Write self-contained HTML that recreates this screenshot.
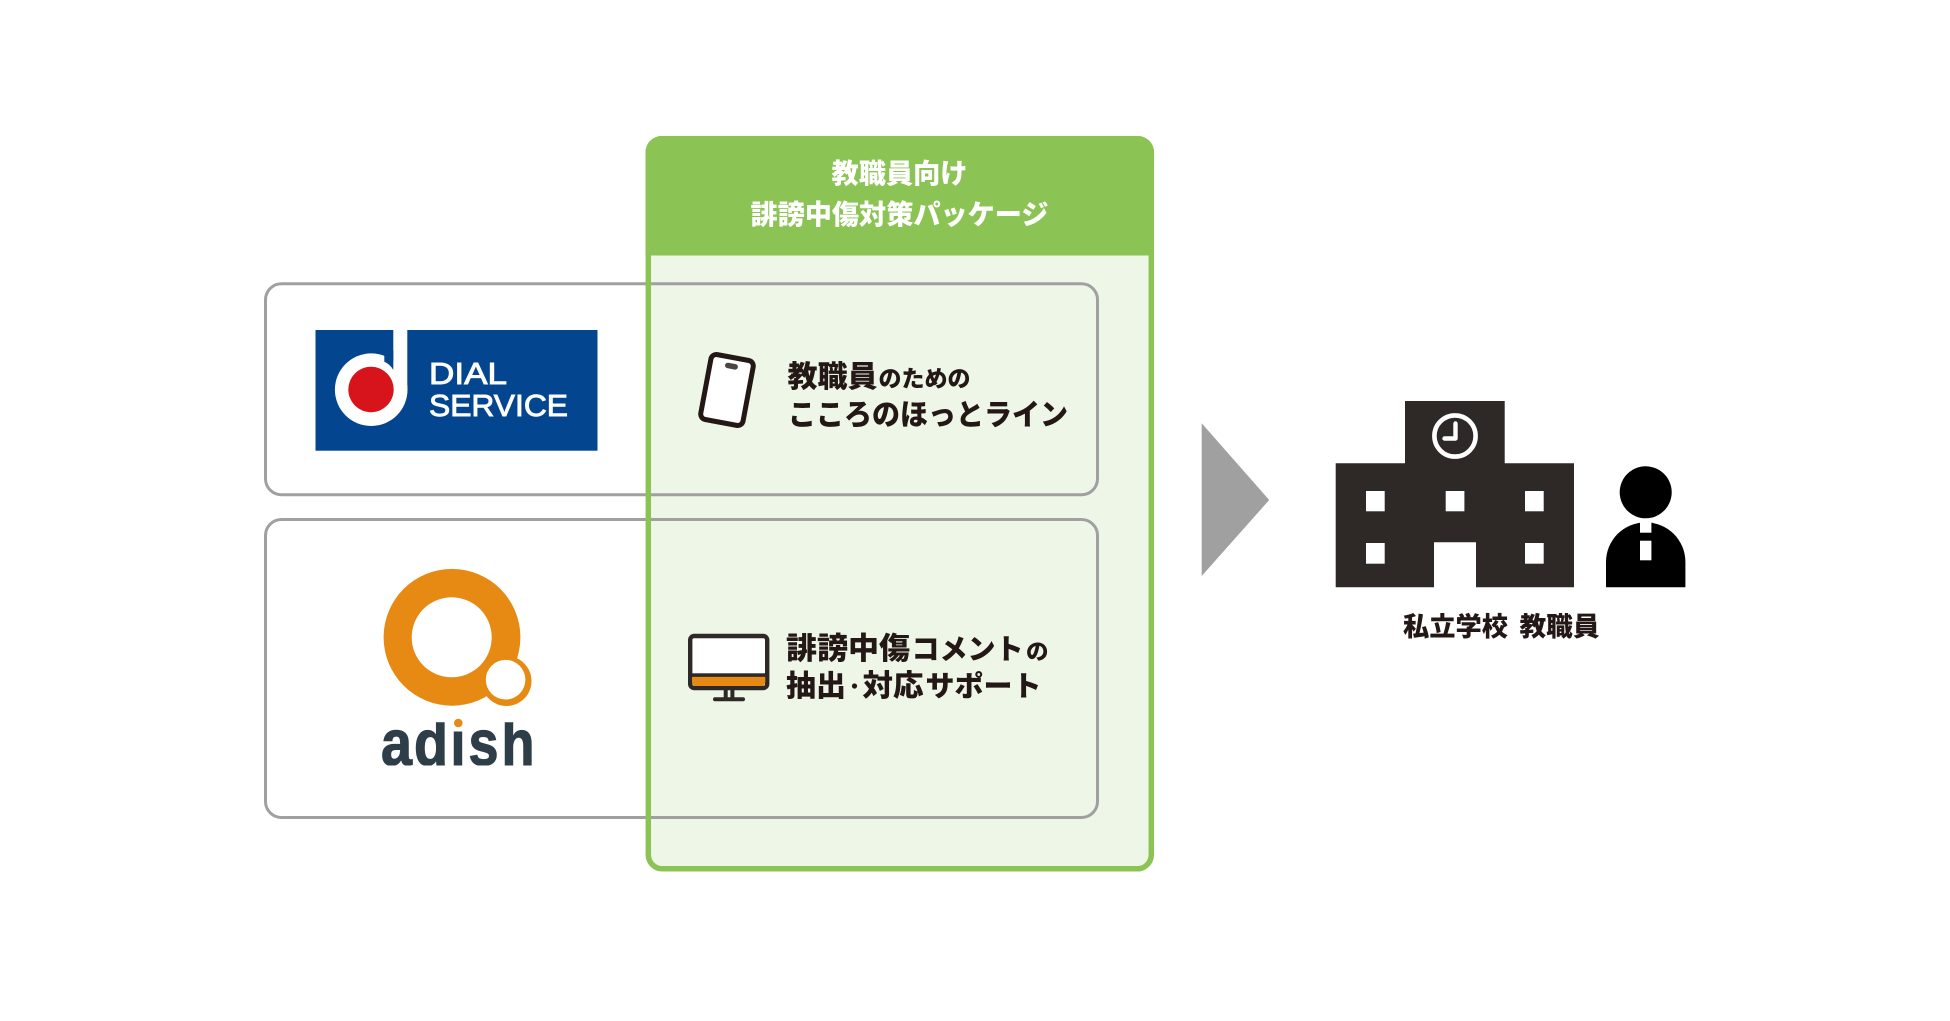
<!DOCTYPE html>
<html lang="ja">
<head>
<meta charset="utf-8">
<title>教職員向け 誹謗中傷対策パッケージ</title>
<style>
html,body{margin:0;padding:0;background:#fff;width:1950px;height:1021px;overflow:hidden}
svg{display:block}
.j{font-family:"Liberation Sans","Noto Sans CJK JP",sans-serif;font-weight:900;fill:#231815}
.w{fill:#fff}
</style>
</head>
<body>
<svg width="1950" height="1021" viewBox="0 0 1950 1021" xmlns="http://www.w3.org/2000/svg">
<defs>
<clipPath id="asc"><rect x="370" y="722.3" width="175" height="43.2"/></clipPath>
</defs>
<rect width="1950" height="1021" fill="#fff"/>

<!-- panel fill -->
<rect x="648" y="140" width="503" height="729" rx="14" fill="#edf6e7"/>

<!-- gray boxes -->
<rect x="265.5" y="283.8" width="832" height="211" rx="16" fill="none" stroke="#a0a0a0" stroke-width="3"/>
<rect x="265.5" y="519.5" width="832" height="298" rx="16" fill="none" stroke="#a0a0a0" stroke-width="3"/>

<!-- panel border and header -->
<rect x="648.3" y="138.8" width="503" height="730" rx="14" fill="none" stroke="#8bc454" stroke-width="5.5"/>
<path d="M645.5 255.5V152a16 16 0 0 1 16-16H1138a16 16 0 0 1 16 16V255.5Z" fill="#8bc454"/>
<text class="j w" x="899.5" y="183" font-size="27.5" text-anchor="middle" textLength="136" lengthAdjust="spacingAndGlyphs">教職員向け</text>
<text class="j w" x="899.5" y="224" font-size="27.5" text-anchor="middle" textLength="298" lengthAdjust="spacingAndGlyphs">誹謗中傷対策パッケージ</text>

<!-- Dial Service logo -->
<rect x="315.5" y="330" width="282" height="120.7" fill="#03468f"/>
<circle cx="371.2" cy="389.7" r="36.3" fill="#fff"/>
<rect x="393.3" y="330" width="14" height="60" fill="#fff"/>
<path d="M384.3 350V361.7Q390 364 393.3 370V350Z" fill="#03468f"/>
<circle cx="371" cy="389.5" r="22.7" fill="#d7141c"/>
<g font-family="'Liberation Sans',sans-serif" font-size="30.5" fill="#fff" stroke="#fff" stroke-width=".9">
<text x="429" y="384" textLength="78" lengthAdjust="spacingAndGlyphs">DIAL</text>
<text x="429" y="416" textLength="139" lengthAdjust="spacingAndGlyphs">SERVICE</text>
</g>

<!-- adish logo -->
<circle cx="452" cy="637.3" r="68.4" fill="#e68a14"/>
<circle cx="451.7" cy="637.3" r="40" fill="#fff"/>
<circle cx="506.5" cy="681" r="25" fill="#e68a14"/>
<circle cx="505.6" cy="679.7" r="19.8" fill="#fff"/>
<g font-family="'Liberation Sans',sans-serif" font-weight="700" font-size="64" fill="#2e3e48" stroke="#2e3e48" stroke-width="1.2" clip-path="url(#asc)">
<text x="381" y="765" textLength="31" lengthAdjust="spacingAndGlyphs">a</text>
<text x="414" y="765" textLength="34" lengthAdjust="spacingAndGlyphs">d</text>
<text x="450.5" y="765" textLength="15" lengthAdjust="spacingAndGlyphs">i</text>
<text x="468.5" y="765" textLength="30" lengthAdjust="spacingAndGlyphs">s</text>
<text x="501.5" y="765" textLength="33" lengthAdjust="spacingAndGlyphs">h</text>
</g>
<rect x="450" y="716" width="16" height="15.5" fill="#fff"/>
<circle cx="458.3" cy="723" r="4.3" fill="#e68a14"/>

<!-- phone icon -->
<g transform="translate(727 390) rotate(10.6)">
<rect x="-21.5" y="-33" width="43" height="66" rx="5.5" fill="#fff" stroke="#231815" stroke-width="5"/>
<rect x="-6.5" y="-27" width="13" height="5.5" rx="2.7" fill="#4a4442"/>
</g>
<text class="j" x="787.5" y="387" font-size="30" textLength="90" lengthAdjust="spacingAndGlyphs">教職員</text>
<text class="j" x="878.5" y="386.7" font-size="23" textLength="92" lengthAdjust="spacingAndGlyphs">のための</text>
<text class="j" x="788" y="425" font-size="29.5" textLength="280" lengthAdjust="spacingAndGlyphs">こころのほっとライン</text>

<!-- monitor icon -->
<rect x="690.2" y="636" width="77" height="52" rx="4" fill="#fff" stroke="#2e2826" stroke-width="4.4"/>
<path d="M692 676.7H765.3V682a4 4 0 0 1-4 4H696a4 4 0 0 1-4-4Z" fill="#e68a14"/>
<rect x="690" y="673.3" width="77" height="3.6" fill="#2e2826"/>
<rect x="723.7" y="690" width="4" height="8" fill="#2e2826"/>
<rect x="730.4" y="690" width="4" height="8" fill="#2e2826"/>
<rect x="713" y="697.3" width="32" height="4" rx="2" fill="#2e2826"/>
<text class="j" x="786" y="659" font-size="30.5" textLength="124" lengthAdjust="spacingAndGlyphs">誹謗中傷</text>
<text class="j" x="911.5" y="659" font-size="28.5" textLength="112" lengthAdjust="spacingAndGlyphs">コメント</text>
<text class="j" x="1026" y="659.4" font-size="22" textLength="22.5" lengthAdjust="spacingAndGlyphs">の</text>
<text class="j" x="786" y="696" font-size="29.5" textLength="60" lengthAdjust="spacingAndGlyphs">抽出</text>
<circle cx="854.5" cy="686" r="2.6" fill="#231815"/>
<text class="j" x="862.5" y="696" font-size="30" textLength="61" lengthAdjust="spacingAndGlyphs">対応</text>
<text class="j" x="925.5" y="696" font-size="28.5" textLength="116" lengthAdjust="spacingAndGlyphs">サポート</text>

<!-- arrow -->
<polygon points="1201.7,423.3 1269.2,500 1201.7,576" fill="#a0a0a0"/>

<!-- school -->
<path d="M1405 401H1504.7V463.3H1574V587.3H1476V542.3H1434V587.3H1335.7V463.3H1405Z" fill="#2e2826"/>
<g fill="#fff">
<rect x="1366" y="491" width="18.7" height="20.3"/>
<rect x="1445.7" y="491" width="18.7" height="20.3"/>
<rect x="1525" y="491" width="18.7" height="20.3"/>
<rect x="1366" y="543" width="18.7" height="20.7"/>
<rect x="1525" y="543" width="18.7" height="20.7"/>
</g>
<circle cx="1455" cy="436" r="20.6" fill="none" stroke="#fff" stroke-width="4.6"/>
<path d="M1455.5 423.5V438.5H1444.5" fill="none" stroke="#fff" stroke-width="4.4" stroke-linecap="round" stroke-linejoin="round"/>

<!-- person -->
<circle cx="1645.7" cy="492.3" r="26" fill="#000"/>
<path d="M1606 587.3V562A39.7 39.7 0 0 1 1685.4 562V587.3Z" fill="#000"/>
<rect x="1640" y="520" width="11.4" height="12.7" fill="#fff"/>
<rect x="1640" y="540.7" width="11.4" height="19.6" fill="#fff"/>

<text class="j" x="1403" y="636" font-size="26.5" textLength="105" lengthAdjust="spacingAndGlyphs">私立学校</text>
<text class="j" x="1519.5" y="636" font-size="26.5" textLength="80" lengthAdjust="spacingAndGlyphs">教職員</text>
</svg>
</body>
</html>
